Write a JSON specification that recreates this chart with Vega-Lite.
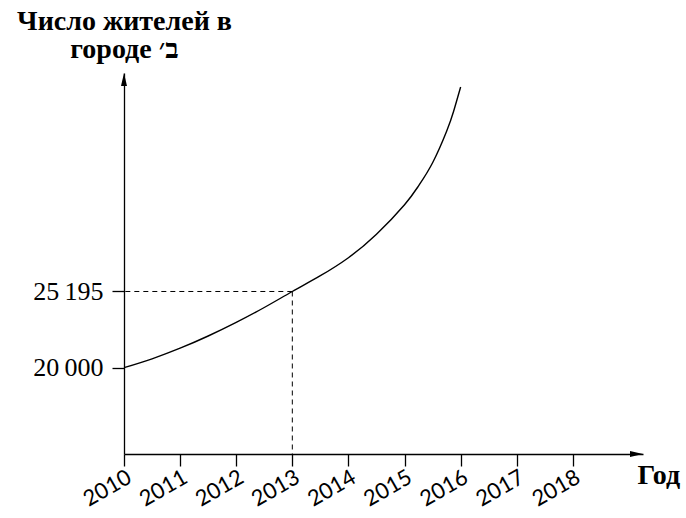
{
  "$schema": "https://vega.github.io/schema/vega-lite/v6.json",
  "width": 519,
  "height": 381,
  "autosize": {"type": "none"},
  "padding": {"left": 124, "top": 73, "right": 43, "bottom": 64},
  "background": "white",
  "config": {"view": {"stroke": null}},
  "datasets": {
    "curve": [
      {"year": 2010, "pop": 20000},
      {"year": 2010.5, "pop": 20607},
      {"year": 2011, "pop": 21329},
      {"year": 2011.5, "pop": 22161},
      {"year": 2012, "pop": 23088},
      {"year": 2012.5, "pop": 24104},
      {"year": 2013, "pop": 25195},
      {"year": 2013.5, "pop": 26272},
      {"year": 2014, "pop": 27499},
      {"year": 2014.5, "pop": 29101},
      {"year": 2015, "pop": 31112},
      {"year": 2015.25, "pop": 32397},
      {"year": 2015.5, "pop": 33971},
      {"year": 2015.75, "pop": 36119},
      {"year": 2015.875, "pop": 37482},
      {"year": 2016, "pop": 39135}
    ],
    "marked": [{"year": 2013, "pop": 25195}]
  },
  "layer": [
    {
      "data": {"name": "curve"},
      "mark": {"type": "line", "interpolate": "natural", "color": "black", "strokeWidth": 1.4},
      "encoding": {
        "x": {
          "field": "year",
          "type": "quantitative",
          "scale": {"domain": [2010, 2019.25], "nice": false, "zero": false},
          "axis": {
            "values": [2010, 2011, 2012, 2013, 2014, 2015, 2016, 2017, 2018],
            "format": "d",
            "grid": false,
            "domainColor": "black",
            "domainWidth": 1.3,
            "tickColor": "black",
            "tickWidth": 1.3,
            "tickSize": 12,
            "labelFont": "Lato",
            "labelFontSize": 22,
            "labelColor": "black",
            "labelAngle": -30,
            "labelAlign": "right",
            "labelBaseline": "middle",
            "labelPadding": 9,
            "labelOffset": 5,
            "labelOverlap": false,
            "labelFlush": false,
            "labelBound": false,
            "title": "Год",
            "titleFont": "Liberation Serif",
            "titleFontSize": 28,
            "titleFontWeight": "bold",
            "titleColor": "black",
            "titleAlign": "left",
            "titleBaseline": "alphabetic",
            "titleX": 513,
            "titleY": 29
          }
        },
        "y": {
          "field": "pop",
          "type": "quantitative",
          "scale": {"domain": [14117, 40090], "nice": false, "zero": false},
          "axis": {
            "values": [20000, 25195],
            "labelExpr": "datum.value == 20000 ? '20\u2009000' : '25\u2009195'",
            "grid": false,
            "domainColor": "black",
            "domainWidth": 1.3,
            "tickColor": "black",
            "tickWidth": 1.3,
            "tickSize": 12,
            "labelFont": "Liberation Serif",
            "labelFontSize": 26,
            "labelColor": "black",
            "labelPadding": 9,
            "labelBaseline": "middle",
            "title": ["Число жителей в", "городе ב׳"],
            "titleAngle": 0,
            "titleAlign": "center",
            "titleBaseline": "alphabetic",
            "titleX": 0,
            "titleY": -44,
            "titleFont": "Liberation Serif",
            "titleFontSize": 28,
            "titleFontWeight": "bold",
            "titleColor": "black",
            "titleLineHeight": 28
          }
        }
      }
    },
    {
      "data": {"name": "marked"},
      "mark": {"type": "rule", "color": "black", "strokeWidth": 1, "strokeDash": [5, 4]},
      "encoding": {
        "x": {"field": "year", "type": "quantitative"},
        "x2": {"datum": 2010},
        "y": {"field": "pop", "type": "quantitative"}
      }
    },
    {
      "data": {"name": "marked"},
      "mark": {"type": "rule", "color": "black", "strokeWidth": 1, "strokeDash": [5, 4]},
      "encoding": {
        "x": {"field": "year", "type": "quantitative"},
        "y": {"field": "pop", "type": "quantitative"},
        "y2": {"datum": 14117}
      }
    },
    {
      "data": {"values": [{}]},
      "mark": {"type": "point", "shape": "M0,0L-2,-0.46L-2,0.46Z", "filled": true, "color": "black", "opacity": 1, "strokeWidth": 0, "size": 169},
      "encoding": {
        "x": {"datum": 2019.25, "type": "quantitative"},
        "y": {"datum": 14117, "type": "quantitative"}
      }
    },
    {
      "data": {"values": [{}]},
      "mark": {"type": "point", "shape": "M0,0L-0.46,2L0.46,2Z", "filled": true, "color": "black", "opacity": 1, "strokeWidth": 0, "size": 169},
      "encoding": {
        "x": {"datum": 2010, "type": "quantitative"},
        "y": {"datum": 40090, "type": "quantitative"}
      }
    }
  ]
}
